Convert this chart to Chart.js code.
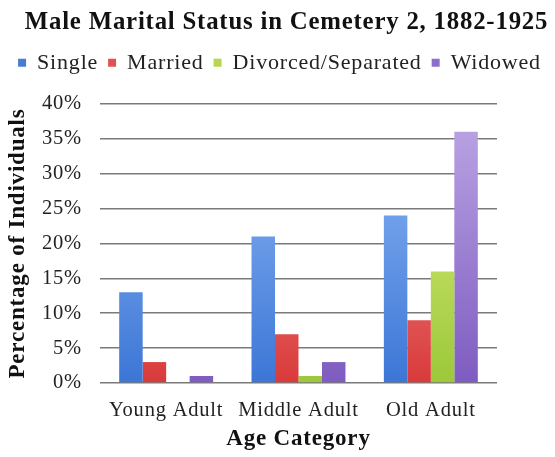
<!DOCTYPE html>
<html><head><meta charset="utf-8">
<script src="https://cdn.jsdelivr.net/npm/chart.js@4/dist/chart.umd.min.js"></script>
<style>html,body{margin:0;padding:0;background:#fff}#wrap{width:555px;height:457px}</style>
</head><body><div id="wrap"><canvas id="c" width="555" height="457"></canvas></div>
<script>
const categories = ["Young Adult", "Middle Adult", "Old Adult"];
const single = [13, 21, 24];
const married = [3, 7, 9];
const divorced = [0, 1, 16];
const widowed = [1, 3, 36];
const yTicks = [0, 5, 10, 15, 20, 25, 30, 35, 40];

const FONT = "'Liberation Serif', 'DejaVu Serif', serif";
const palette = {
  Single: ["#93bcf7", "#3c76d6", "#4a7bd4"],
  Married: ["#f7a3a3", "#d93a3a", "#e05252"],
  "Divorced/Separated": ["#e4f287", "#9cc83a", "#b5d84e"],
  Widowed: ["#bea8e6", "#7e5cc0", "#8b6fc8"]
};
function grad(name){
  return (ctx) => {
    const c = ctx.chart, a = c.chartArea;
    if (!a) return palette[name][2];
    const g = c.ctx.createLinearGradient(0, a.bottom, 0, a.top);
    g.addColorStop(0, palette[name][1]);
    g.addColorStop(1, palette[name][0]);
    return g;
  };
}
function ds(label, data){
  return {label, data, backgroundColor: grad(label), borderWidth: 0,
    categoryPercentage: 0.71, barPercentage: 1.0, yAxisID: 'y'};
}
const SPACING = '0.8px';
const spacingPlugin = {
  id: 'spacing',
  afterInit(chart){
    const tb = chart.titleBlock;
    if (tb) {
      const orig = tb.draw.bind(tb);
      tb.draw = function(a){ const c = chart.ctx; c.save(); c.translate(7, 0); orig(a); c.restore(); };
    }
  },
  beforeUpdate(chart){ chart.ctx.letterSpacing = SPACING; },
  beforeDraw(chart){ chart.ctx.letterSpacing = SPACING; }
};
new Chart(document.getElementById('c'), {
  type: 'bar',
  plugins: [spacingPlugin],
  data: {
    labels: categories,
    datasets: [ds("Single", single), ds("Married", married), ds("Divorced/Separated", divorced), ds("Widowed", widowed)]
  },
  options: {
    responsive: false, animation: false,
    layout: {padding: {left: 4, right: 0, top: 0, bottom: 0}},
    plugins: {
      title: {display: true, text: "Male Marital Status in Cemetery 2, 1882-1925",
        color: "#111", font: {family: FONT, size: 24.8, weight: 'bold'}, padding: {top: 8, bottom: 4}},
      subtitle: {display: true, text: "", weight: 500, font: {size: 1}, padding: {top: 0, bottom: 19}},
      legend: {
        position: 'top',
        labels: {
          font: {family: FONT, size: 22}, color: "#222",
          boxWidth: 8, boxHeight: 8, padding: 10,
          generateLabels: (chart) => chart.data.datasets.map((d, i) => ({
            text: d.label, fillStyle: palette[d.label][2], strokeStyle: palette[d.label][2],
            lineWidth: 0, datasetIndex: i, hidden: false, fontColor: "#222"
          }))
        }
      },
      tooltip: {enabled: false}
    },
    scales: {
      x: {
        grid: {display: false, drawTicks: false},
        border: {display: false},
        ticks: {font: {family: FONT, size: 20.5}, color: "#222", padding: 15},
        title: {display: true, text: "Age Category", color: "#111",
          font: {family: FONT, size: 23, weight: 'bold'}, padding: {top: 2}},
        afterFit: (s) => { s.height = 74; }
      },
      y: {
        min: 0, max: 40,
        afterBuildTicks: (s) => { s.ticks = yTicks.map(v => ({value: v})); },
        grid: {color: "#7a7a7a", lineWidth: 1.6, drawTicks: false},
        border: {display: false},
        ticks: {font: {family: FONT, size: 20.5}, color: "#222", padding: 18,
          callback: (v) => v + "%"},
        title: {display: true, text: "Percentage of Individuals", color: "#111",
          font: {family: FONT, size: 23, weight: 'bold'}, padding: {top: 0, bottom: 0}},
        afterFit: (s) => { s.width = 96; }
      },
      spacer: {
        type: 'linear', position: 'right', display: true,
        grid: {display: false, drawTicks: false}, border: {display: false},
        ticks: {display: false},
        afterFit: (s) => { s.width = 58; }
      }
    }
  }
});
</script></body></html>
